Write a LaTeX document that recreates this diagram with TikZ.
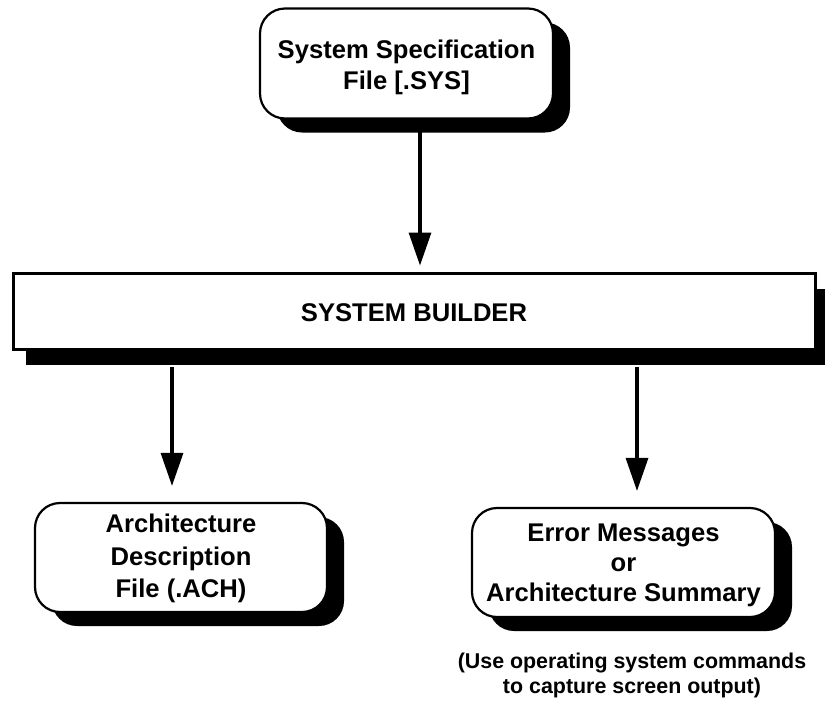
\documentclass[tikz,border=0pt]{standalone}
\usepackage{fontspec}
\setmainfont{Liberation Sans}
\usetikzlibrary{arrows.meta,shadows}
\begin{document}
\begin{tikzpicture}[x=1pt,y=-1pt,
  boxfont/.style={font=\bfseries\fontsize{25.6}{#1}\selectfont, align=center, inner sep=0pt},
  filebox/.style={draw=black, line width=2.2pt, fill=white, rounded corners=25pt,
    inner sep=0pt,
    drop shadow={shadow xshift=17pt, shadow yshift=-14pt, fill=black, opacity=1}},
  builderbox/.style={draw=black, line width=3pt, fill=white, inner sep=0pt,
    drop shadow={shadow xshift=13pt, shadow yshift=-16pt, fill=black, opacity=1}},
  flow/.style={line width=3.2pt, -{Triangle[width=22pt,length=33pt]}},
  notefont/.style={font=\bfseries\fontsize{21.4}{25}\selectfont, align=center}
]
\useasboundingbox (0,0) rectangle (825,705);

% x positions of the three vertical connectors
\coordinate (c1) at (420,120);
\coordinate (c2) at (172,350);
\coordinate (c3) at (637,350);

% boxes
\node[filebox, minimum width=293pt, minimum height=110pt] (spec) at (406.5,63.5) {};
\node[builderbox, minimum width=802pt, minimum height=76pt] (builder) at (414,311) {};
\node[filebox, minimum width=292pt, minimum height=109pt] (arch) at (181,557.5) {};
\node[filebox, minimum width=303pt, minimum height=109pt] (errs) at (623.5,562.5) {};

% box texts
\node[boxfont=31] (spectext) at ([yshift=-4pt]spec.center) {System Specification\\File [.SYS]};
\node[boxfont=31] (buildertext) at ([yshift=-2pt]builder.center) {SYSTEM BUILDER};
\node[boxfont=32.5] (archtext) at ([yshift=-1pt]arch.center) {Architecture\\Description\\File (.ACH)};
\node[boxfont=30] (errstext) at ([yshift=-3pt]errs.center) {Error Messages\\or\\Architecture Summary};

\node[notefont] (note) at (632,675)
  {(Use operating system commands\\to capture screen output)};

% connectors, starting just below the shadows
\draw[flow, shorten >=6pt] (spec.south -| c1) ++(0,12) -- (builder.north -| c1);
\draw[flow, shorten >=16pt] (builder.south -| c2) ++(0,16) -- (arch.north -| c2);
\draw[flow, shorten >=16pt] (builder.south -| c3) ++(0,16) -- (errs.north -| c3);
\end{tikzpicture}
\end{document}
